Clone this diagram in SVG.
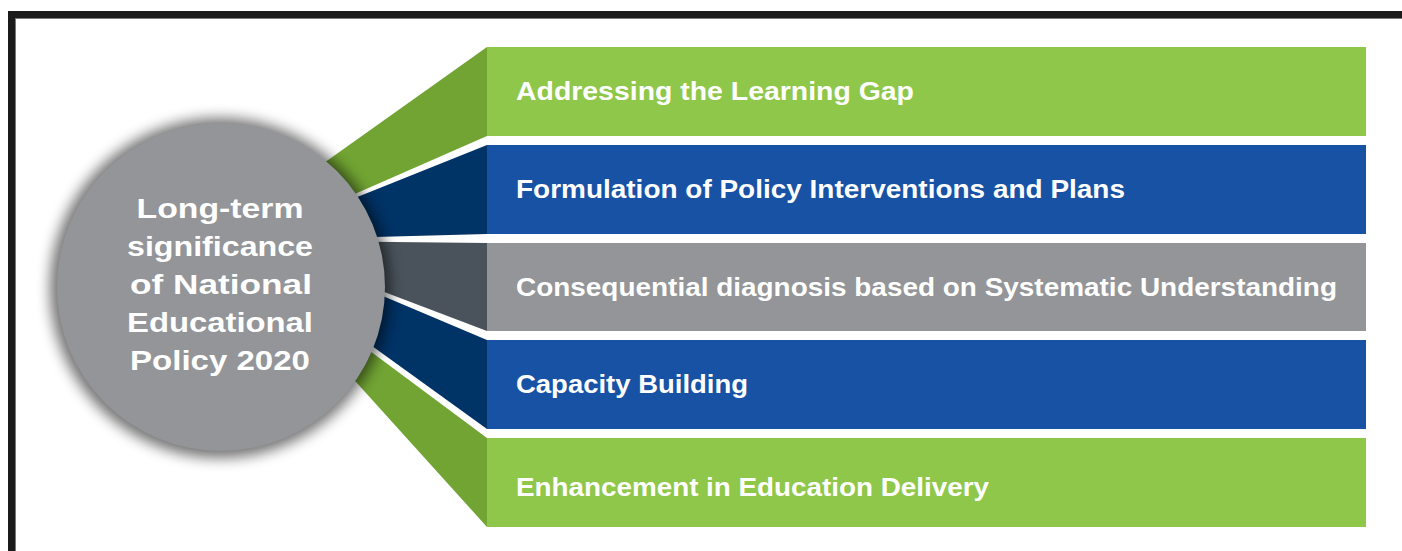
<svg xmlns="http://www.w3.org/2000/svg" width="1402" height="551" viewBox="0 0 1402 551">
<defs>
<style>
.t{font-family:"Liberation Sans",Arial,sans-serif;font-weight:bold;fill:#ffffff;}
.bt{font-size:26px;}
.ct{font-size:28px;text-anchor:middle;}
.green{fill:#8fc74a;}
.blue{fill:#1752a5;}
.gray{fill:#939598;}
.wgreen{fill:#71a433;}
.wblue{fill:#003366;}
.wgray{fill:#4a535c;}
</style>
<filter id="blur" x="-30%" y="-30%" width="160%" height="160%">
<feGaussianBlur stdDeviation="7"/>
</filter>
</defs>
<rect width="1402" height="551" fill="#ffffff"/>
<g id="frame">
<rect x="8" y="11" width="1394" height="7" fill="#1b1b1b"/>
<rect x="8" y="11" width="7" height="540" fill="#1b1b1b"/>
<rect x="15" y="18" width="1387" height="1" fill="#7a7a7a"/>
<rect x="15" y="18" width="1" height="533" fill="#7a7a7a"/>
</g>
<g id="connectors">
<polygon class="wgreen" points="487,47 487,136 300,218 300,180"/>
<polygon class="wblue" points="487,145 487,234 300,239 300,220"/>
<polygon class="wgray" points="487,243 487,331 300,260 300,241"/>
<polygon class="wblue" points="487,340 487,429 300,294 300,261"/>
<polygon class="wgreen" points="487,438 487,527 300,320 300,299"/>
</g>
<g id="row1">
<rect class="green" x="487" y="47" width="879" height="89"/>
<text class="t bt" x="516" y="100" textLength="398" lengthAdjust="spacingAndGlyphs">Addressing the Learning Gap</text>
</g>
<g id="row2">
<rect class="blue" x="487" y="145" width="879" height="89"/>
<text class="t bt" x="516" y="198" textLength="609" lengthAdjust="spacingAndGlyphs">Formulation of Policy Interventions and Plans</text>
</g>
<g id="row3">
<rect class="gray" x="487" y="243" width="879" height="88"/>
<text class="t bt" x="516" y="296" textLength="821" lengthAdjust="spacingAndGlyphs">Consequential diagnosis based on Systematic Understanding</text>
</g>
<g id="row4">
<rect class="blue" x="487" y="340" width="879" height="89"/>
<text class="t bt" x="516" y="393" textLength="232" lengthAdjust="spacingAndGlyphs">Capacity Building</text>
</g>
<g id="row5">
<rect class="green" x="487" y="438" width="879" height="89"/>
<text class="t bt" x="516" y="496" textLength="473" lengthAdjust="spacingAndGlyphs">Enhancement in Education Delivery</text>
</g>
<g id="center">
<circle cx="220" cy="288" r="170" fill="#000000" opacity="0.55" filter="url(#blur)"/>
<circle cx="221" cy="287" r="164" fill="#939598"/>
<text class="t ct" x="220" y="218" textLength="167" lengthAdjust="spacingAndGlyphs">Long-term</text>
<text class="t ct" x="220" y="256" textLength="186" lengthAdjust="spacingAndGlyphs">significance</text>
<text class="t ct" x="221" y="294" textLength="182" lengthAdjust="spacingAndGlyphs">of National</text>
<text class="t ct" x="220" y="332" textLength="186" lengthAdjust="spacingAndGlyphs">Educational</text>
<text class="t ct" x="220" y="370" textLength="180" lengthAdjust="spacingAndGlyphs">Policy 2020</text>
</g>
</svg>
